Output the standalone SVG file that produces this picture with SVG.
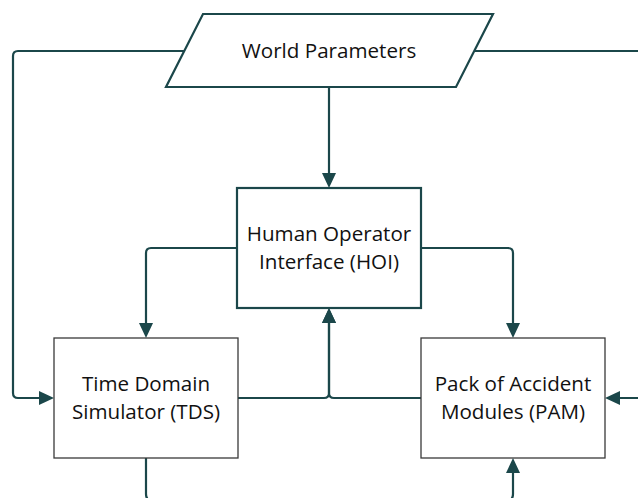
<svg xmlns="http://www.w3.org/2000/svg" width="638" height="498" viewBox="0 0 638 498">
<style>
.bg{fill:#ffffff}
.conn{fill:none;stroke:#1b474a;stroke-width:2.2;stroke-linejoin:round}
.box{fill:#ffffff;stroke:#3a3a3a;stroke-width:1.3}
.boxb{fill:#ffffff;stroke:#1b474a;stroke-width:2.2}
.lbl{font-family:"Open Sans","Liberation Sans",sans-serif;font-size:20.6px;fill:#111111;text-anchor:middle}
</style>
<defs>
<marker id="ah" viewBox="0 0 15 14" refX="10" refY="7" markerWidth="15" markerHeight="14" markerUnits="userSpaceOnUse" orient="auto">
<path d="M0,0 L15,7 L0,14 z" fill="#1b474a"/>
</marker>
</defs>
<rect class="bg" x="0" y="0" width="638" height="498"/>
<g id="connectors">
<path class="conn" d="M329,88 V183" marker-end="url(#ah)"/>
<path class="conn" d="M184,51 H18 Q13,51 13,56 V393 Q13,398 18,398 H49" marker-end="url(#ah)"/>
<path class="conn" d="M475,51 H650 V398 H610" marker-end="url(#ah)"/>
<path class="conn" d="M237,248 H151 Q146,248 146,253 V333" marker-end="url(#ah)"/>
<path class="conn" d="M421,248 H508 Q513,248 513,253 V333" marker-end="url(#ah)"/>
<path class="conn" d="M238,398 H324 Q329,398 329,393 V313" marker-end="url(#ah)"/>
<path class="conn" d="M421,398 H334 Q329,398 329,393 V313" marker-end="url(#ah)"/>
<path class="conn" d="M146,458 V494 Q146,501 153,501 H506 Q513,501 513,494 V463" marker-end="url(#ah)"/>
</g>
<g id="world">
<polygon class="boxb" points="203,14 493,14 456,87 166,87"/>
<text class="lbl" x="329" y="58">World Parameters</text>
</g>
<g id="hoi">
<rect class="boxb" x="237" y="188" width="184" height="120"/>
<text class="lbl" x="329" y="241">Human Operator</text>
<text class="lbl" x="329" y="269">Interface (HOI)</text>
</g>
<g id="tds">
<rect class="box" x="54" y="338" width="184" height="120"/>
<text class="lbl" x="146" y="391">Time Domain</text>
<text class="lbl" x="146" y="419">Simulator (TDS)</text>
</g>
<g id="pam">
<rect class="box" x="421" y="338" width="184" height="120"/>
<text class="lbl" x="513" y="391">Pack of Accident</text>
<text class="lbl" x="513" y="419">Modules (PAM)</text>
</g>
</svg>
